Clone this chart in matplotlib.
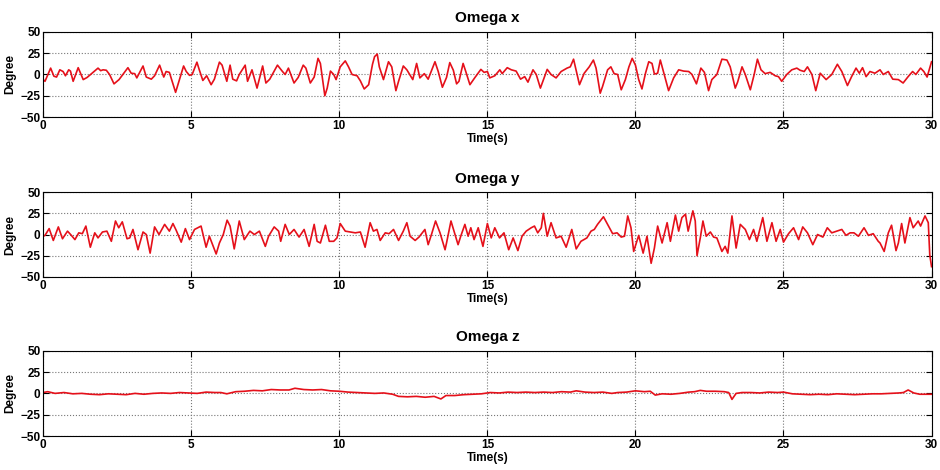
import matplotlib

matplotlib.use("Agg")
import matplotlib.pyplot as plt
import numpy as np

plt.rcParams["font.family"] = ["Liberation Sans", "DejaVu Sans"]
plt.rcParams["font.weight"] = "bold"

# values (time in s, angular rate in degree)
tx = [0.0, 0.06, 0.25, 0.36, 0.45, 0.56, 0.67, 0.75, 0.86, 0.92, 1.01, 1.18, 1.35, 1.48, 1.68,
      1.85, 1.94, 2.02, 2.13, 2.24, 2.39, 2.56, 2.69, 2.86, 2.97, 3.09, 3.16, 3.37, 3.48, 3.65,
      3.76, 3.93, 4.07, 4.15, 4.26, 4.47, 4.60, 4.74, 4.83, 4.94, 5.03, 5.19, 5.27, 5.39, 5.52,
      5.67, 5.78, 5.95, 6.04, 6.20, 6.31, 6.40, 6.53, 6.62, 6.82, 6.90, 7.05, 7.22, 7.41, 7.52,
      7.65, 7.91, 8.08, 8.17, 8.28, 8.47, 8.61, 8.78, 8.87, 9.02, 9.15, 9.28, 9.36, 9.51, 9.59,
      9.70, 9.81, 9.89, 10.03, 10.20, 10.31, 10.43, 10.60, 10.71, 10.84, 10.99, 11.12, 11.19, 11.28,
      11.35, 11.49, 11.66, 11.77, 11.91, 12.00, 12.16, 12.28, 12.48, 12.61, 12.72, 12.87, 13.00,
      13.23, 13.34, 13.48, 13.62, 13.73, 13.85, 13.96, 14.04, 14.18, 14.27, 14.41, 14.57, 14.78,
      14.89, 15.00, 15.08, 15.25, 15.42, 15.50, 15.67, 15.81, 15.97, 16.12, 16.26, 16.37, 16.54,
      16.65, 16.79, 17.02, 17.15, 17.32, 17.49, 17.69, 17.80, 17.91, 18.11, 18.27, 18.44, 18.58,
      18.67, 18.81, 18.89, 19.06, 19.17, 19.28, 19.40, 19.52, 19.66, 19.78, 19.89, 20.00, 20.11,
      20.22, 20.34, 20.45, 20.56, 20.64, 20.75, 20.84, 20.96, 21.12, 21.29, 21.46, 21.63, 21.80,
      21.91, 22.06, 22.21, 22.33, 22.47, 22.58, 22.75, 22.92, 23.09, 23.20, 23.37, 23.45, 23.60,
      23.71, 23.88, 24.01, 24.12, 24.24, 24.38, 24.55, 24.72, 24.83, 24.94, 25.11, 25.28, 25.45,
      25.56, 25.70, 25.81, 25.96, 26.09, 26.24, 26.44, 26.63, 26.82, 26.97, 27.16, 27.30, 27.45,
      27.56, 27.67, 27.79, 27.92, 28.09, 28.26, 28.37, 28.54, 28.69, 28.88, 29.04, 29.21, 29.36,
      29.47, 29.63, 29.74, 29.85, 30.0]
wx = [-6, -8, 7.5, -2, -3, 5.5, 3.5, -1.5, 5.5, 4, -8, 8, -6, -3.5, 2.5,
      7.5, 4.5, 5.5, 5, 0, -11, -6, 0, 8, 1.5, 1, -4, 10, -3, -5.5,
      -1.5, 11, -3, 3.5, 2.5, -21, -6, 10, 3.5, -1, 0, 14.5, 5.5, -7, -1.5,
      -12, -5.5, 14.5, 11, -8, 11, -5.5, -7.5, 0, 11, -8, 5.5, -16, 10, -10,
      -5.5, 11, 3.5, 0, 7.5, -10, -3.5, 11, 7.5, -10, -3, 19, 13, -25, -16,
      4, 0, -6, 9, 16, 9, 0, -1.5, -7.5, -17, -12, 12, 21, 24,
      9, -6, 15, 9, -19, -8, 10, 5.5, -6, 13, -4, 1, -5.5,
      15, 3.5, -15, -3.5, 14, 5, -11, -8, 13, 3.5, -12, -4, 6,
      2.5, 3.5, -4, -1.5, 5.5, 1, 8, 5.5, 4, -5.5, -2.5, -9, 5.5,
      0, -16, 6, 0, -4, 3.5, 7.5, 9, 18, -12, 1.5, 9, 17,
      7.5, -22, -14, 5.5, 9, 1, 0, -18, -6, 9, 19, 11, -6,
      -17, 1.5, 15, 13, 0.5, 1.5, 17, 1.5, -19, -4, 5.5, 4, 3.5,
      0, -11, 7.5, 2.5, -19, -6, 0, 18, 17, 9, -16, -9, 9,
      0, -18, 0, 18, 5.5, 1, 2.5, -1.5, -2.5, -8, 0, 5.5, 7.5,
      5, 3.5, 9, 0, -19, 1.5, -6, 0, 12, 3.5, -13, -2.5, 7.5,
      1.5, 8, -2.5, 3.5, 1.5, 5.5, 0, 3.5, -5.5, -6, -10, -2.5, 3.5,
      0, 7.5, 3.5, -3, 15]

ty = [0.0, 0.06, 0.20, 0.34, 0.51, 0.65, 0.82, 0.95, 1.07, 1.20, 1.32, 1.44, 1.59, 1.74, 1.85,
      2.00, 2.15, 2.30, 2.44, 2.55, 2.67, 2.83, 2.92, 3.03, 3.20, 3.37, 3.48, 3.61, 3.76, 3.91,
      4.10, 4.26, 4.38, 4.49, 4.66, 4.80, 4.94, 5.11, 5.33, 5.50, 5.61, 5.84, 5.95, 6.08, 6.21,
      6.31, 6.45, 6.62, 6.79, 6.98, 7.13, 7.30, 7.50, 7.61, 7.80, 7.95, 8.02, 8.17, 8.31, 8.47,
      8.64, 8.81, 8.98, 9.15, 9.25, 9.36, 9.53, 9.66, 9.81, 9.92, 10.03, 10.20, 10.37, 10.54,
      10.71, 10.87, 11.04, 11.15, 11.27, 11.38, 11.55, 11.68, 11.83, 12.00, 12.16, 12.28, 12.39,
      12.56, 12.69, 12.89, 13.00, 13.12, 13.25, 13.40, 13.57, 13.62, 13.77, 13.88, 14.01, 14.10,
      14.24, 14.35, 14.44, 14.55, 14.69, 14.85, 15.00, 15.13, 15.25, 15.41, 15.56, 15.72, 15.87,
      16.03, 16.17, 16.31, 16.48, 16.59, 16.70, 16.82, 16.89, 17.02, 17.15, 17.32, 17.49, 17.66,
      17.85, 18.00, 18.16, 18.36, 18.50, 18.61, 18.72, 18.92, 19.06, 19.23, 19.38, 19.52, 19.63,
      19.74, 19.85, 19.94, 20.11, 20.26, 20.39, 20.53, 20.64, 20.75, 20.90, 21.07, 21.18, 21.35,
      21.46, 21.57, 21.69, 21.78, 21.94, 22.02, 22.08, 22.19, 22.28, 22.39, 22.53, 22.64, 22.75,
      22.92, 23.03, 23.12, 23.26, 23.40, 23.54, 23.71, 23.85, 23.99, 24.10, 24.30, 24.44, 24.61,
      24.75, 24.89, 25.00, 25.17, 25.34, 25.51, 25.65, 25.81, 25.99, 26.15, 26.33, 26.48, 26.63,
      26.80, 26.97, 27.11, 27.25, 27.38, 27.53, 27.72, 27.87, 28.03, 28.20, 28.26, 28.40, 28.54,
      28.65, 28.80, 28.88, 28.99, 29.10, 29.27, 29.38, 29.55, 29.63, 29.78, 29.89, 29.94, 30.0]
wy = [-2, -1, 7, -7, 9, -5, 4, -1, -6, 2, 1, 10, -15, 2, -4,
      3, 4, -8, 16, 8, 15, -5, -4, 6, -18, 3, 0, -22, 9, 0,
      12, 4, 13, 5, -9, 7, -6, 6, 10, -15, -2, -23, -10, 0, 17,
      10, -17, 16, -6, 4, 0, 4, -14, -2, 9, 4, -8, 12, 0, 6,
      -3, 6, -14, 12, -8, -10, 11, -8, -8, -4, 13, 4, 3, 2,
      3, -15, 14, 4, 6, -7, 2, 1, 6, -7, 4, 14, -2,
      -7, -3, 6, -12, 1, 16, 2, -18, -10, 16, 3, -12, -2,
      12, -2, 8, -6, 8, -14, 13, -4, 8, -4, 2, -18, -4,
      -19, -2, 4, 8, 10, 2, 8, 25, -2, 14, -4, -2, -15,
      6, -17, -8, -4, 4, 6, 12, 21, 12, 1, 2, -3, -2,
      22, 8, -20, -1, -22, -2, -34, -16, 10, -10, 14, -8, 23,
      4, 20, 24, 4, 28, 16, -25, -4, 16, -2, 3, -3, -4,
      -20, -14, -22, 22, -16, 12, 6, -6, 6, -8, 20, -8, 14,
      -8, 6, -9, 1, 8, -6, 9, 2, -12, 0, -3, 8, 2,
      4, 6, -1, 2, 2, -2, 8, -1, 1, -8, -10, -20, 2,
      11, -19, -10, 13, -10, 20, 8, 16, 10, 22, 14, -24, -38]

tz = [0.0, 0.15, 0.4, 0.7, 1.0, 1.3, 1.6, 1.9, 2.2, 2.5, 2.8, 3.1, 3.4, 3.7, 4.0,
      4.3, 4.6, 4.9, 5.2, 5.5, 5.8, 6.0, 6.2, 6.5, 6.8, 7.1, 7.4, 7.7, 8.0, 8.3,
      8.5, 8.8, 9.1, 9.4, 9.7, 10.0, 10.3, 10.6, 10.9, 11.2, 11.5, 11.8, 12.0, 12.3, 12.6,
      12.9, 13.2, 13.43, 13.6, 13.9, 14.2, 14.5, 14.8, 15.1, 15.4, 15.7, 16.0, 16.3, 16.6,
      16.9, 17.2, 17.5, 17.8, 18.0, 18.3, 18.6, 18.9, 19.2, 19.4, 19.7, 20.0, 20.3, 20.5,
      20.67, 20.9, 21.2, 21.5, 21.8, 22.0, 22.19, 22.4, 22.7, 23.0, 23.15, 23.26, 23.4, 23.6,
      23.9, 24.2, 24.5, 24.8, 25.0, 25.3, 25.6, 25.9, 26.2, 26.5, 26.8, 27.1, 27.4, 27.7,
      28.0, 28.3, 28.6, 28.9, 29.05, 29.21, 29.4, 29.6, 29.8, 30.0]
wz = [1, 2, 0, 1, -0.5, 0, -1, -1.5, -0.5, -1, -1.5, 0, -1, 0, 0.5,
      0, 1, 0.5, 0, 1.5, 1, 1, -0.5, 2, 2.5, 3.5, 3, 4.5, 4, 4,
      6, 4.5, 4, 4.5, 3, 2.5, 1.5, 1, 0.5, 0, 0.5, -1, -3.5, -4, -3.5,
      -4.5, -3.5, -6.5, -2.5, -2.5, -1.5, -1, -0.5, 1, 0.5, 1.5, 1, 1.5, 1,
      1.5, 1, 2, 1.5, 3, 1.5, 1, 1.5, 0, 1, 1.5, 3, 2, 2.5,
      -2, -0.5, -1, 0, 1.5, 2, 3.5, 2.5, 2.5, 2, 1, -7, 0, 1,
      1, 0.5, 1.5, 1, 1.5, -0.5, -1, -1.5, -1, -1.5, -0.5, -1, -1.5, -1,
      -0.5, -0.5, 0, 0.5, 1, 4, 0.5, -1, -1, -1]

titles = ["Omega x", "Omega y", "Omega z"]
series = [(tx, wx), (ty, wy), (tz, wz)]
xticks = [0, 5, 10, 15, 20, 25, 30]
yticks = [-50, -25, 0, 25, 50]

fig = plt.figure(figsize=(9.4, 4.7), dpi=100)
boxes = [[0.046, 0.751, 0.945, 0.181],
         [0.046, 0.411, 0.945, 0.180],
         [0.046, 0.072, 0.945, 0.182]]

for box, title, (t, w) in zip(boxes, titles, series):
    ax = fig.add_axes(box)
    ax.plot(t, w, color="#e5101a", lw=1.2)
    ax.set_xlim(0, 30)
    ax.set_ylim(-50, 50)
    ax.set_xticks(xticks)
    ax.set_yticks(yticks)
    ax.grid(True, linestyle=":", color="#777777", lw=0.8)
    ax.tick_params(direction="in", top=True, right=True, labelsize=8.5, pad=2, length=4)
    for lab in ax.get_xticklabels() + ax.get_yticklabels():
        lab.set_fontweight("bold")
    ax.set_title(title, fontsize=11, fontweight="bold", pad=7)
    ax.set_xlabel("Time(s)", fontsize=8.5, fontweight="bold", labelpad=1)
    ax.set_ylabel("Degree", fontsize=8.5, fontweight="bold", labelpad=3)
    for s in ax.spines.values():
        s.set_linewidth(0.8)

fig.savefig("out.png", dpi=100)
plt.close(fig)
